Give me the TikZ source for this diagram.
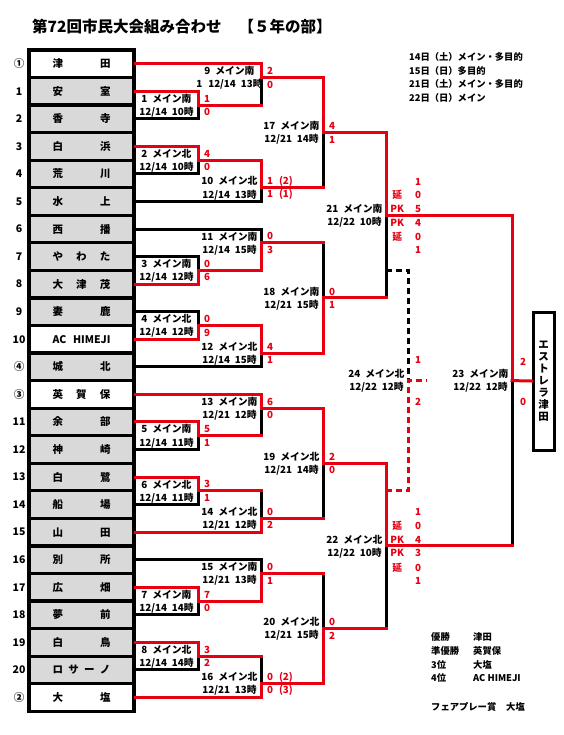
\documentclass[tikz,border=0pt]{standalone}
\usepackage{fontspec}
\setmainfont{Noto Sans CJK JP}
\usepackage{tikz}
\definecolor{wred}{RGB}{230,0,18}
\definecolor{gbox}{RGB}{217,217,217}
\newcommand{\tn}[1]{\makebox[58pt][s]{#1}}
\newcommand{\ext}[2]{\makebox[14pt]{#1}\hspace{10pt}\makebox[8pt]{#2}}

\begin{document}
\begin{tikzpicture}[x=1pt, y=-1pt,
  team/.style={draw, line width=3.2pt, minimum width=105pt, minimum height=27.55pt, inner sep=0pt, font=\bfseries\fontsize{10.5}{12}\selectfont},
  seed/.style={font=\bfseries\fontsize{10.5}{12}\selectfont},
  win/.style={draw=wred, line width=3pt, line cap=rect},
  lose/.style={draw=black, line width=3pt, line cap=rect},
  mlbl/.style={font=\bfseries\fontsize{9.8}{11}\selectfont, inner sep=0pt},
  score/.style={font=\bfseries\fontsize{9.8}{11}\selectfont, text=wred, inner sep=0pt, anchor=west},
  info/.style={font=\bfseries\fontsize{9.3}{11}\selectfont, inner sep=0pt, anchor=west}]
\useasboundingbox (0,0) rectangle (563,735);

\node[anchor=west, inner sep=0pt, font=\bfseries\fontsize{15.5}{17}\selectfont] (title) at (32,27) {第72回市民大会組み合わせ\hspace{1.1em}【５年の部】};

% teams
\foreach \i/\s/\n/\f in {
  0/①/{津\hfil 田}/white, 1/1/{安\hfil 室}/gbox, 2/2/{香\hfil 寺}/gbox,
  3/3/{白\hfil 浜}/gbox, 4/4/{荒\hfil 川}/gbox, 5/5/{水\hfil 上}/gbox,
  6/6/{西\hfil 播}/gbox, 7/7/{や\hfil わ\hfil た}/gbox, 8/8/{大\hfil 津\hfil 茂}/gbox,
  9/9/{妻\hfil 鹿}/gbox, 10/10/{AC\hfil HIMEJI}/white, 11/④/{城\hfil 北}/gbox,
  12/③/{英\hfil 賀\hfil 保}/white, 13/11/{余\hfil 部}/gbox, 14/12/{神\hfil 崎}/gbox,
  15/13/{白\hfil 鷺}/gbox, 16/14/{船\hfil 場}/gbox, 17/15/{山\hfil 田}/gbox,
  18/16/{別\hfil 所}/gbox, 19/17/{広\hfil 畑}/gbox, 20/18/{夢\hfil 前}/gbox,
  21/19/{白\hfil 鳥}/gbox, 22/20/{ロ\hfil サ\hfil ー\hfil ノ}/gbox, 23/②/{大\hfil 塩}/white}{
  \node[team, fill=\f] (t\i) at (81.5,{50+27.55*(\i+0.5)}) {\tn{\n}};
  \node[seed] (n\i) at (19,{50+27.55*(\i+0.5)}) {\s};
}

% match points
\coordinate (m1) at (198,105.1);   \coordinate (m2) at (198,160.2);
\coordinate (m3) at (198,270.4);   \coordinate (m4) at (198,325.5);
\coordinate (m5) at (198,435.7);   \coordinate (m6) at (198,490.8);
\coordinate (m7) at (198,601);     \coordinate (m8) at (198,656.1);
\coordinate (m9) at (261,77.55);   \coordinate (m10) at (261,187.75);
\coordinate (m11) at (261,242.85); \coordinate (m12) at (261,353.05);
\coordinate (m13) at (261,408.15); \coordinate (m14) at (261,518.35);
\coordinate (m15) at (261,573.45); \coordinate (m16) at (261,683.65);
\coordinate (m17) at (323,132.65); \coordinate (m18) at (323,297.95);
\coordinate (m19) at (323,463.25); \coordinate (m20) at (323,628.55);
\coordinate (m21) at (386,215.3);  \coordinate (m22) at (386,545.9);
\coordinate (m23) at (512,380.6);  \coordinate (m24) at (408,380.6);
\coordinate (e21) at (386,270.4);  \coordinate (e22) at (386,490.8);
\coordinate (o24) at (427,380.6);

\node[draw, line width=3pt, minimum width=21pt, minimum height=138pt, inner sep=0pt, align=center,
  font=\bfseries\fontsize{10.5}{12}\selectfont] (champ) at (543.5,381) {エ\\ス\\ト\\レ\\ラ\\津\\田};

% lost
\foreach \t/\m in {2/1, 4/2, 5/10, 6/11, 7/3, 9/4, 11/12, 14/5, 16/6, 18/15, 20/7, 22/8}
  \draw[lose] (t\t.east) -| (m\m);
\foreach \a/\b in {1/9, 5/13, 6/14, 8/16, 10/17, 11/18, 14/19, 15/20, 18/21, 20/22, 22/23}
  \draw[lose] (m\a -| m\b) -- (m\b);
\draw[lose, line cap=butt, dash pattern=on 6pt off 4pt] (e21) -| (m24);

% won
\foreach \t/\m in {0/9, 1/1, 3/2, 8/3, 10/4, 12/13, 13/5, 15/6, 17/14, 19/7, 21/8, 23/16}
  \draw[win] (t\t.east) -| (m\m);
\foreach \a/\b in {1/9, 5/13, 6/14, 8/16, 10/17, 11/18, 14/19, 15/20, 18/21, 20/22, 22/23}
  \draw[win] (m\a) -- (m\a -| m\b);
\foreach \a/\b in {2/10, 3/11, 4/12, 7/15, 9/17, 12/18, 13/19, 16/20, 17/21, 19/22, 21/23}
  \draw[win] (m\a) -| (m\b);
\draw[win] (m23) -- (champ.west);
\draw[win, line cap=butt, dash pattern=on 6pt off 4pt] (e22) -| (m24) -- (o24);

% match labels
\foreach \k/\dir/\day/\hr in {1/南/{12/14}/10, 2/北/{12/14}/10, 3/南/{12/14}/12, 4/北/{12/14}/12,
  5/南/{12/14}/11, 6/北/{12/14}/11, 7/南/{12/14}/14, 8/北/{12/14}/14,
  9/南/{1\hspace{0.6em}12/14}/13, 10/北/{12/14}/13, 11/南/{12/14}/15, 12/北/{12/14}/15,
  13/南/{12/21}/12, 14/北/{12/21}/12, 15/南/{12/21}/13, 16/北/{12/21}/13,
  17/南/{12/21}/14, 18/南/{12/21}/15, 19/北/{12/21}/14, 20/北/{12/21}/15,
  21/南/{12/22}/10, 22/北/{12/22}/10, 23/南/{12/22}/12, 24/北/{12/22}/12}{
  \node[mlbl] (l\k-a) at ([xshift=-31.5pt, yshift=6.5pt]m\k) {\k\hspace{0.5em}メイン\dir};
  \node[mlbl] (l\k-b) at ([xshift=-31.5pt, yshift=-7pt]m\k) {\day\hspace{0.5em}{\hr}時};
}

% scores
\foreach \k/\a/\b in {1/1/0, 2/4/0, 3/0/6, 4/0/9, 5/5/1, 6/3/1, 7/7/0, 8/3/2, 9/2/0,
  10/{1\hspace{0.6em}(2)}/{1\hspace{0.6em}(1)}, 11/0/3, 12/4/1, 13/6/0, 14/0/2, 15/0/1,
  16/{0\hspace{0.6em}(2)}/{0\hspace{0.6em}(3)}, 17/4/1, 18/0/1, 19/2/0, 20/0/2}{
  \node[score] (s\k-a) at ([xshift=6pt, yshift=6.5pt]m\k) {\a};
  \node[score] (s\k-b) at ([xshift=6pt, yshift=-7pt]m\k) {\b};
}
\foreach \m/\p/\q in {21/5/4, 22/4/3}
  \foreach \dy/\u/\v [count=\r] in {33.5//1, 20/延/0, 6.3/PK/\p, -7.5/PK/\q, -21.5/延/0, -35//1}
    \node[score] (s\m-\r) at ([xshift=4pt, yshift=\dy pt]m\m) {\ext{\u}{\v}};
\node[score] (s23-a) at ([xshift=8pt, yshift=18.6pt]m23) {2};
\node[score] (s23-b) at ([xshift=8pt, yshift=-21.4pt]m23) {0};
\node[score] (s24-a) at ([xshift=6.8pt, yshift=20.6pt]m24) {1};
\node[score] (s24-b) at ([xshift=6.8pt, yshift=-21.4pt]m24) {2};

% schedule and results
\node[info] (d1) at (409,57) {14日（土）メイン・多目的};
\node[info] (d2) at (409,71) {15日（日）多目的};
\node[info] (d3) at (409,84) {21日（土）メイン・多目的};
\node[info] (d4) at (409,98) {22日（日）メイン};
\foreach \y/\p/\w [count=\r] in {637/優勝/津田, 651/準優勝/英賀保, 665/3位/大塩, 678/4位/AC HIMEJI}{
  \node[info] (rk\r) at (431,\y) {\p};
  \node[info] (rw\r) at (473,\y) {\w};
}
\node[info] (fp) at (431,707) {フェアプレー賞};
\node[info] (fpw) at (506,707) {大塩};
\end{tikzpicture}
\end{document}
